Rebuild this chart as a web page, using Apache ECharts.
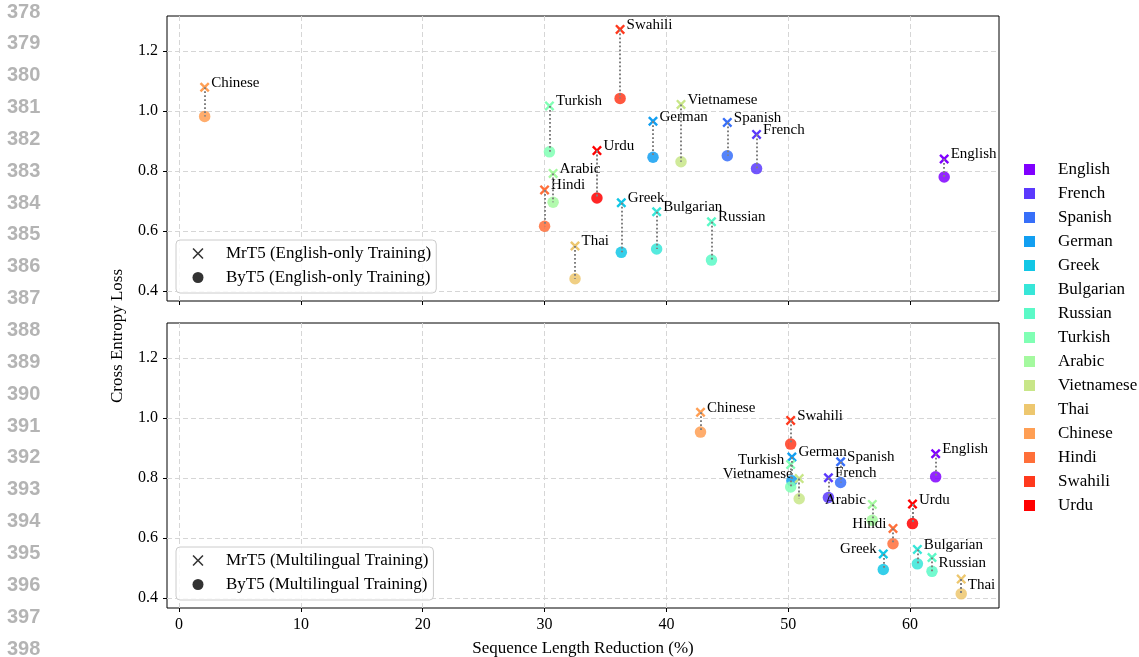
<!DOCTYPE html>
<html>
<head>
<meta charset="utf-8">
<script src="https://cdn.jsdelivr.net/npm/echarts@6/dist/echarts.min.js"></script>
<style>html,body{margin:0;padding:0;background:#fff}#c{width:1139px;height:657px}</style>
</head>
<body>
<div id="c"></div>
<script>
// ---------------- DATA ----------------
const languages = ['English','French','Spanish','German','Greek','Bulgarian','Russian','Turkish','Arabic','Vietnamese','Thai','Chinese','Hindi','Swahili','Urdu'];

// Top panel: English-only training
const enReduction = [62.8, 47.4, 45.0, 38.9, 36.3, 39.2, 43.7, 30.4, 30.7, 41.2, 32.5, 2.1, 30.0, 36.2, 34.3];
const enMrT5Loss  = [0.840, 0.922, 0.962, 0.966, 0.694, 0.664, 0.631, 1.017, 0.792, 1.022, 0.550, 1.079, 0.737, 1.272, 0.868];
const enByT5Loss  = [0.780, 0.808, 0.851, 0.846, 0.529, 0.540, 0.503, 0.864, 0.696, 0.831, 0.441, 0.982, 0.616, 1.042, 0.710];

// Bottom panel: multilingual training
const mlReduction = [62.1, 53.3, 54.3, 50.3, 57.8, 60.6, 61.8, 50.2, 56.9, 50.9, 64.2, 42.8, 58.6, 50.2, 60.2];
const mlMrT5Loss  = [0.881, 0.801, 0.854, 0.870, 0.547, 0.562, 0.535, 0.845, 0.712, 0.798, 0.463, 1.019, 0.632, 0.992, 0.713];
const mlByT5Loss  = [0.804, 0.735, 0.785, 0.791, 0.495, 0.514, 0.489, 0.770, 0.659, 0.731, 0.414, 0.953, 0.581, 0.913, 0.648];

const xTicks = [0, 10, 20, 30, 40, 50, 60];
const yTicks = [0.4, 0.6, 0.8, 1.0, 1.2];
const lineNumbers = [378,379,380,381,382,383,384,385,386,387,388,389,390,391,392,393,394,395,396,397,398];

const legendTop = ['MrT5 (English-only Training)', 'ByT5 (English-only Training)'];
const legendBottom = ['MrT5 (Multilingual Training)', 'ByT5 (Multilingual Training)'];

// ---------------- STYLE ----------------
const palette = ['#8000ff','#5b39fd','#376ff9','#129ff1','#12c7e6','#37e6d8','#5bf9c7','#80ffb4','#a4f99f','#c8e688','#edc76f','#ff9f54','#ff6f39','#ff391d','#ff0000'];
const SERIF = '"Liberation Serif", "Times New Roman", serif';
const crossPath = 'path://M1.7,0L5,3.3L8.3,0L10,1.7L6.7,5L10,8.3L8.3,10L5,6.7L1.7,10L0,8.3L3.3,5L0,1.7Z';
const legendCross = 'path://M1,0L5,4L9,0L10,1L6,5L10,9L9,10L5,6L1,10L0,9L4,5L0,1Z';
const leftLabelsBottom = ['Turkish','Vietnamese','Arabic','Hindi','Greek'];
const lowLabelsBottom = ['Russian','Thai'];

const grids = [
  {left: 167, top: 16, width: 832, height: 285, show: true, borderColor: '#000', borderWidth: 1,
   backgroundColor: 'transparent', outerBoundsMode: 'none', containLabel: false},
  {left: 167, top: 323, width: 832, height: 285, show: true, borderColor: '#000', borderWidth: 1,
   backgroundColor: 'transparent', outerBoundsMode: 'none', containLabel: false}
];

function xAxisCfg(k) {
  return {
    type: 'value', gridIndex: k, min: -0.99, max: 67.3,
    axisLine: {show: false, onZero: false},
    axisTick: {show: true, length: 4, inside: false, lineStyle: {color: '#000', width: 1}, customValues: xTicks},
    axisLabel: {show: k === 1, customValues: xTicks, margin: 9, fontFamily: SERIF, fontSize: 16, color: '#000'},
    splitLine: {show: true, lineStyle: {color: '#d6d6d6', type: [5, 3], width: 1}},
    name: k === 1 ? 'Sequence Length Reduction (%)' : '',
    nameLocation: 'middle', nameGap: 32,
    nameTextStyle: {fontFamily: SERIF, fontSize: 17, color: '#000'}
  };
}
function yAxisCfg(k) {
  return {
    type: 'value', gridIndex: k, min: 0.3667, max: 1.3167,
    axisLine: {show: false, onZero: false},
    axisTick: {show: true, length: 4, inside: false, lineStyle: {color: '#000', width: 1}, customValues: yTicks},
    axisLabel: {show: true, customValues: yTicks, margin: 9, fontFamily: SERIF, fontSize: 16, color: '#000',
      formatter: v => Number(v).toFixed(1)},
    splitLine: {show: true, lineStyle: {color: '#d6d6d6', type: [5, 3], width: 1}}
  };
}

function labelCfg(lang, k) {
  let pos = 'right', off = [0, -4.5];
  if (k === 1 && leftLabelsBottom.includes(lang)) pos = 'left';
  if (k === 1 && lowLabelsBottom.includes(lang)) off = [0, 6];
  return {show: true, formatter: lang, position: pos, distance: 1.5, offset: off,
    color: '#000', fontFamily: SERIF, fontSize: 15};
}

const panels = [
  {x: enReduction, mr: enMrT5Loss, by: enByT5Loss},
  {x: mlReduction, mr: mlMrT5Loss, by: mlByT5Loss}
];

const series = [];
panels.forEach((p, k) => {
  languages.forEach((lang, i) => {
    series.push({
      name: lang, type: 'scatter', xAxisIndex: k, yAxisIndex: k, z: 3,
      symbol: crossPath, symbolSize: 10,
      itemStyle: {color: palette[i], opacity: 1},
      label: labelCfg(lang, k), emphasis: {disabled: true},
      data: [[p.x[i], p.mr[i]]]
    });
    series.push({
      name: lang, type: 'scatter', xAxisIndex: k, yAxisIndex: k, z: 2,
      symbol: 'circle', symbolSize: 11.5,
      itemStyle: {color: palette[i], opacity: 0.85},
      emphasis: {disabled: true},
      data: [[p.x[i], p.by[i]]]
    });
  });
  series.push({
    type: 'lines', coordinateSystem: 'cartesian2d', xAxisIndex: k, yAxisIndex: k, z: 5, silent: true,
    lineStyle: {color: '#808080', width: 2, type: [1.8, 2.2], opacity: 1},
    data: languages.map((l, i) => ({coords: [[p.x[i], p.mr[i]], [p.x[i], p.by[i]]]}))
  });
});
// dummy series for the marker legends
[legendTop, legendBottom].forEach(names => {
  series.push({name: names[0], type: 'scatter', data: [], symbol: crossPath, itemStyle: {color: '#000'}});
  series.push({name: names[1], type: 'scatter', data: [], symbol: 'circle', itemStyle: {color: '#000'}});
});

function markerLegend(names, top) {
  return {
    data: [{name: names[0], icon: legendCross}, {name: names[1], icon: 'circle'}],
    orient: 'vertical', left: 176, top: top,
    padding: [5, 5, 7, 16.5], itemWidth: 22, itemHeight: 11, itemGap: 7,
    backgroundColor: 'rgba(255,255,255,0.85)', borderColor: '#cccccc', borderWidth: 1, borderRadius: 4,
    selectedMode: false,
    textStyle: {fontFamily: SERIF, fontSize: 17, lineHeight: 17, color: '#000', padding: [0, 0, 0, 12]}
  };
}

const graphics = lineNumbers.map((n, i) => ({
  type: 'text', x: 7, y: 12 + i * 31.85, silent: true,
  style: {text: String(n), fontFamily: '"Liberation Sans", Arial, sans-serif', fontWeight: 'bold', fontSize: 20,
    fill: '#b4b4b4', align: 'left', verticalAlign: 'middle'}
}));
graphics.push({
  type: 'text', x: 118, y: 336, rotation: Math.PI / 2, silent: true,
  style: {text: 'Cross Entropy Loss', fontFamily: SERIF, fontSize: 17, fill: '#000', align: 'center', verticalAlign: 'middle'}
});

const option = {
  animation: false,
  backgroundColor: '#fff',
  grid: grids,
  xAxis: [xAxisCfg(0), xAxisCfg(1)],
  yAxis: [yAxisCfg(0), yAxisCfg(1)],
  legend: [
    {
      data: languages.map(n => ({name: n, icon: 'rect'})),
      orient: 'vertical', left: 1024, top: 161, padding: 0,
      itemWidth: 11, itemHeight: 11, itemGap: 7, selectedMode: false,
      textStyle: {fontFamily: SERIF, fontSize: 17, lineHeight: 17, color: '#000', padding: [0, 0, 0, 18]}
    },
    markerLegend(legendTop, 240),
    markerLegend(legendBottom, 547)
  ],
  graphic: graphics,
  series: series
};

const chart = echarts.init(document.getElementById('c'), null, {renderer: 'canvas'});
chart.setOption(option);
</script>
</body>
</html>
